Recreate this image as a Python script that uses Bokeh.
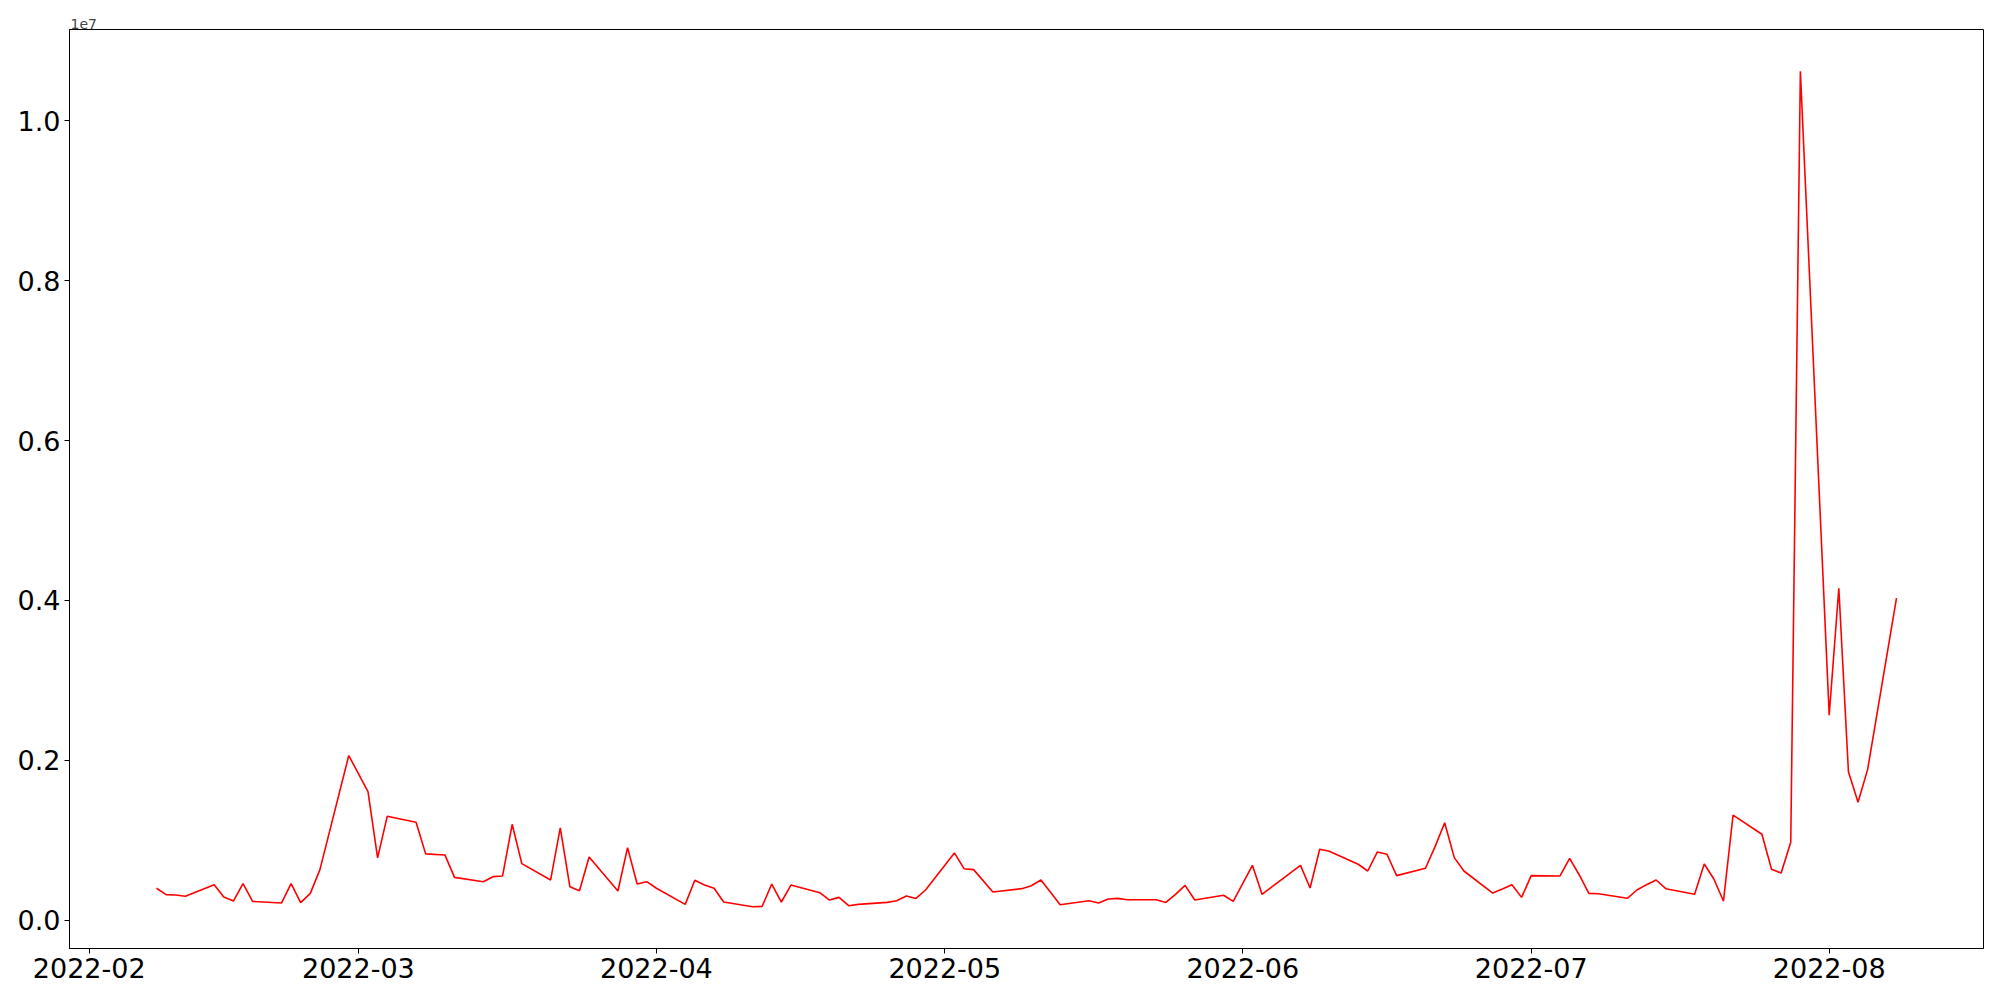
import pandas as pd
from bokeh.plotting import figure
from bokeh.models import (Range1d, FixedTicker, DatetimeTickFormatter,
                          PrintfTickFormatter, ColumnDataSource)
from bokeh.embed import file_html
from bokeh.resources import INLINE

YEAR = 2022

# trading days per month and values (in millions)
feb_days = [8, 9, 10, 11, 14, 15, 16, 17, 18, 21, 22, 23, 24, 25, 28]
feb_vals = [0.40, 0.32, 0.315, 0.30, 0.445, 0.29, 0.24, 0.457, 0.236, 0.215,
            0.457, 0.22, 0.336, 0.633, 2.06]

mar_days = [2, 3, 4, 7, 8, 10, 11, 14, 15, 16, 17, 18, 21, 22, 23, 24, 25,
            28, 29, 30, 31]
mar_vals = [1.61, 0.78, 1.30, 1.225, 0.83, 0.817, 0.536, 0.482, 0.545, 0.554,
            1.20, 0.708, 0.504, 1.155, 0.42, 0.37, 0.79, 0.366, 0.908, 0.453,
            0.482]

apr_days = [1, 4, 5, 6, 7, 8, 11, 12, 13, 14, 15, 18, 19, 20, 21, 22, 25, 26,
            27, 28, 29]
apr_vals = [0.40, 0.198, 0.50, 0.44, 0.40, 0.228, 0.169, 0.173, 0.453, 0.228,
            0.44, 0.345, 0.253, 0.286, 0.182, 0.198, 0.223, 0.244, 0.303,
            0.273, 0.378]

may_days = [2, 3, 4, 6, 9, 10, 11, 12, 13, 16, 17, 18, 19, 20, 23, 24, 25, 26,
            27, 30, 31]
may_vals = [0.842, 0.645, 0.633, 0.353, 0.395, 0.432, 0.503, 0.35, 0.194,
            0.244, 0.215, 0.265, 0.273, 0.257, 0.257, 0.223, 0.324, 0.436,
            0.253, 0.312, 0.236]

jun_days = [2, 3, 7, 8, 9, 10, 13, 14, 15, 16, 17, 20, 21, 22, 23, 24, 27, 28,
            29, 30]
jun_vals = [0.687, 0.324, 0.687, 0.403, 0.888, 0.863, 0.70, 0.616, 0.854,
            0.825, 0.558, 0.65, 0.921, 1.22, 0.783, 0.616, 0.34, 0.39, 0.445,
            0.286]

jul_days = [1, 4, 5, 6, 7, 8, 11, 12, 13, 14, 15, 18, 19, 20, 21, 22, 25, 26,
            27, 28, 29]
jul_vals = [0.558, 0.554, 0.775, 0.566, 0.336, 0.332, 0.274, 0.378, 0.445,
            0.503, 0.395, 0.324, 0.704, 0.516, 0.24, 1.314, 1.076, 0.637,
            0.591, 0.975, 10.62]

aug_days = [1, 2, 3, 4, 5, 8]
aug_vals = [2.564, 4.153, 1.858, 1.476, 1.887, 4.028]

x_tick_dates = ["2022-02-01", "2022-03-01", "2022-04-01", "2022-05-01",
                "2022-06-01", "2022-07-01", "2022-08-01"]
y_tick_values = [0.0, 0.2, 0.4, 0.6, 0.8, 1.0]
OFFSET = 1e7
OFFSET_LABEL = "1e7"

months = [(2, feb_days, feb_vals), (3, mar_days, mar_vals),
          (4, apr_days, apr_vals), (5, may_days, may_vals),
          (6, jun_days, jun_vals), (7, jul_days, jul_vals),
          (8, aug_days, aug_vals)]

dates, vals = [], []
for m, ds, vs in months:
    for d, v in zip(ds, vs):
        dates.append(pd.Timestamp(YEAR, m, d))
        vals.append(v * 1e6)

y = [v / OFFSET for v in vals]
src = ColumnDataSource(dict(x=dates, y=y))

x_min, x_max = min(dates), max(dates)
xpad = (x_max - x_min) * 0.05
y_min, y_max = min(y), max(y)
ypad = (y_max - y_min) * 0.05

p = figure(width=1984, height=990, x_axis_type="datetime",
           output_backend="svg", toolbar_location=None,
           x_range=Range1d(x_min - xpad, x_max + xpad),
           y_range=Range1d(y_min - ypad, y_max + ypad),
           min_border_left=69, min_border_right=1,
           min_border_top=29, min_border_bottom=42,
           title=OFFSET_LABEL)

p.title.align = "left"
p.title.text_font = "DejaVu Sans"
p.title.text_font_size = "14px"
p.title.text_font_style = "normal"
p.title.standoff = 1
p.title.offset = 1

p.line("x", "y", source=src, line_color="red", line_width=1.6)

p.xgrid.visible = False
p.ygrid.visible = False
p.outline_line_color = "black"
p.outline_line_width = 1
p.outline_line_alpha = 1
p.background_fill_color = "white"
p.border_fill_color = "white"

for ax in (p.xaxis[0], p.yaxis[0]):
    ax.major_label_text_font = "DejaVu Sans"
    ax.major_label_text_font_size = "27px"
    ax.major_label_text_color = "black"
    ax.major_tick_out = 5
    ax.major_tick_in = 0
    ax.minor_tick_out = 0
    ax.minor_tick_in = 0
    ax.axis_line_color = "black"
    ax.major_tick_line_color = "black"
    ax.major_label_standoff = 4

p.xaxis.ticker = FixedTicker(
    ticks=[pd.Timestamp(s).timestamp() * 1000 for s in x_tick_dates])
fmt = "%Y-%m"
p.xaxis.formatter = DatetimeTickFormatter(
    milliseconds=fmt, seconds=fmt, minsec=fmt, minutes=fmt, hourmin=fmt,
    hours=fmt, days=fmt, months=fmt, years=fmt)

p.yaxis.ticker = FixedTicker(ticks=y_tick_values)
p.yaxis.formatter = PrintfTickFormatter(format="%.1f")

open("out.html", "w").write(file_html(p, INLINE))
